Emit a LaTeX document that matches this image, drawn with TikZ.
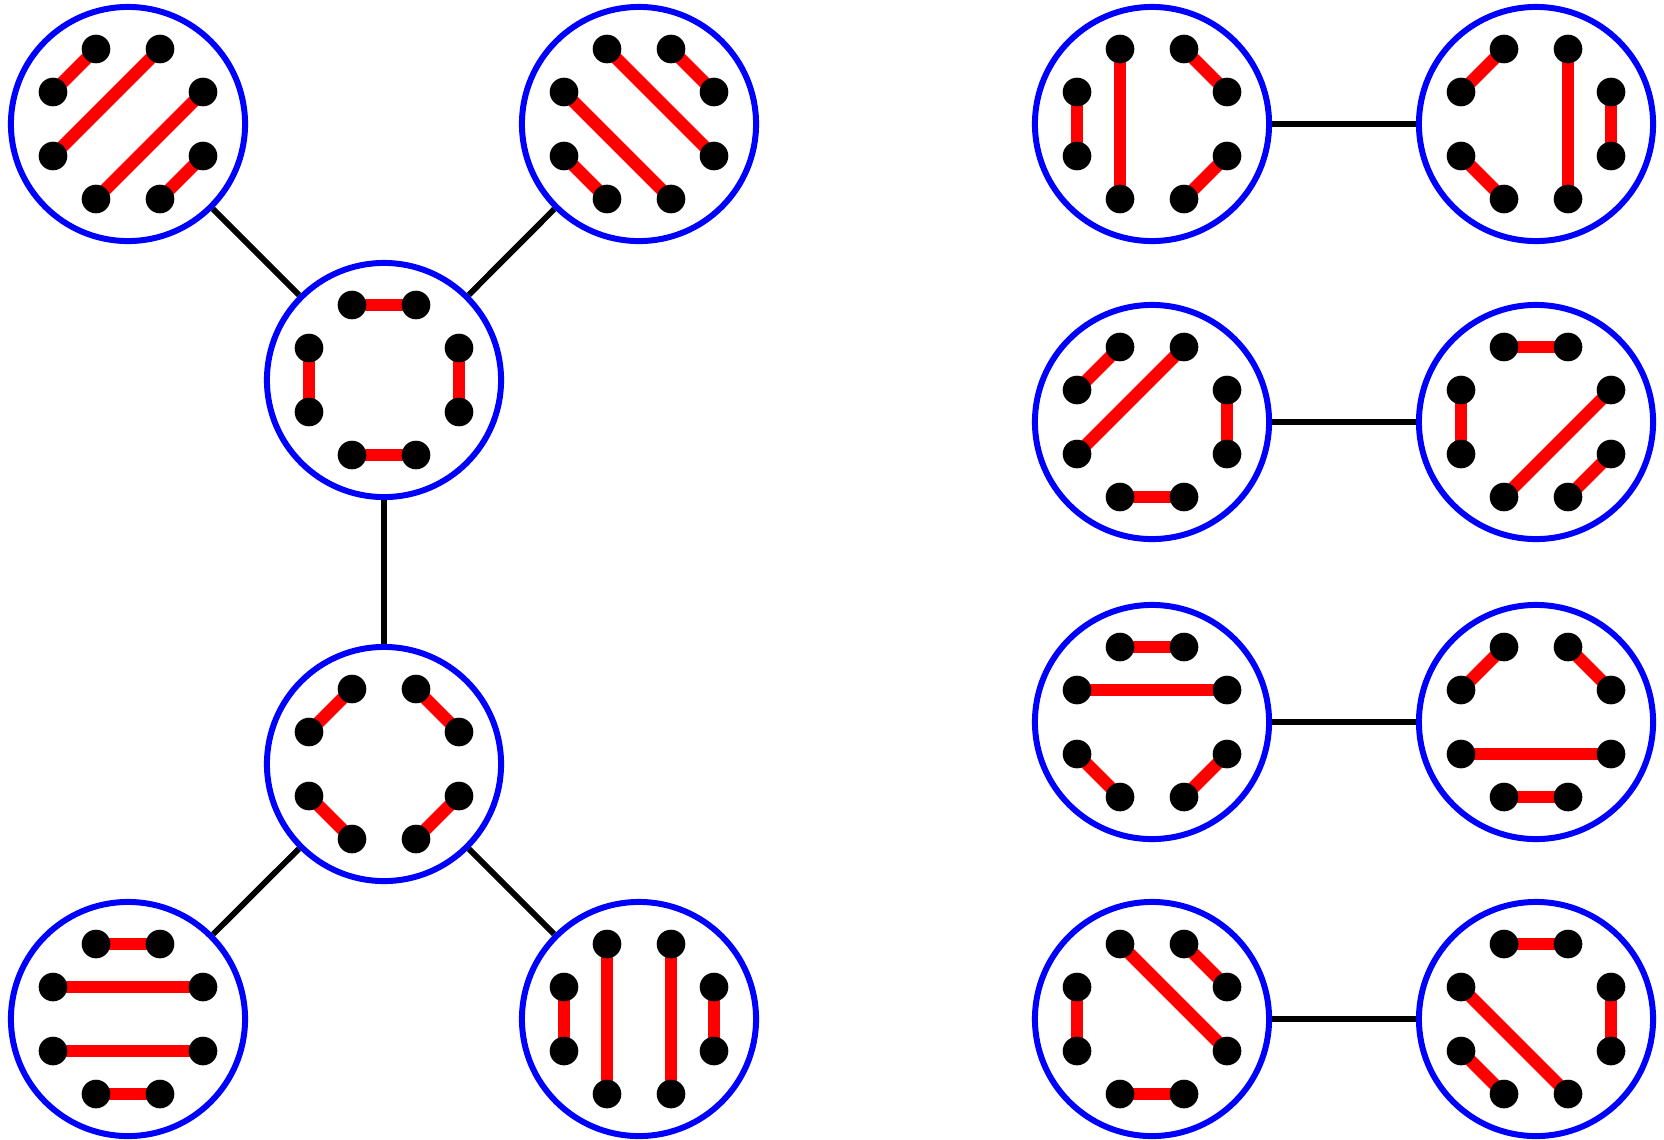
\documentclass[tikz,border=0pt]{standalone}
\usetikzlibrary{calc}
\tikzset{
  ring/.style={circle, draw=blue, fill=white, line width=1.7pt, minimum size=2.34cm, inner sep=0pt},
  match/.style={draw=red, line width=3.6pt},
  dotmark/.style={fill=black},
  link/.style={draw=black, line width=1.65pt}
}
\newcommand{\ringcell}[4]{%
  \node[ring] (#1) at (#2,#3) {};
  \coordinate (#1-1) at ([shift={(-32,-75)}]#1.center);
  \coordinate (#1-2) at ([shift={(32,-75)}]#1.center);
  \coordinate (#1-3) at ([shift={(75,-32)}]#1.center);
  \coordinate (#1-4) at ([shift={(75,32)}]#1.center);
  \coordinate (#1-5) at ([shift={(32,75)}]#1.center);
  \coordinate (#1-6) at ([shift={(-32,75)}]#1.center);
  \coordinate (#1-7) at ([shift={(-75,32)}]#1.center);
  \coordinate (#1-8) at ([shift={(-75,-32)}]#1.center);
  \foreach \a/\b in {#4} {\draw[match] (#1-\a) -- (#1-\b);}
  \foreach \i in {1,...,8} {\fill[dotmark] (#1-\i) circle (0.143cm);}
}
\begin{document}
\begin{tikzpicture}[x=0.01cm, y=-0.01cm]
\useasboundingbox (0,0) rectangle (1664,1139);
% left cluster
\ringcell{TL}{128}{124}{1/8,2/7,3/6,4/5}
\ringcell{TR}{639}{124}{1/4,8/5,2/3,7/6}
\ringcell{CU}{384}{380}{1/2,8/7,3/4,6/5}
\ringcell{CL}{384}{764}{1/8,2/3,7/6,4/5}
\ringcell{BL}{128}{1019}{1/2,8/3,7/4,6/5}
\ringcell{BR}{639}{1019}{8/7,1/6,2/5,3/4}
% right pairs
\ringcell{RA}{1152}{124}{8/7,1/6,2/3,5/4}
\ringcell{RB}{1536}{124}{1/8,7/6,2/5,3/4}
\ringcell{RC}{1152}{422}{1/8,2/7,3/4,6/5}
\ringcell{RD}{1536}{422}{1/2,8/7,3/6,4/5}
\ringcell{RE}{1152}{722}{1/2,8/3,7/6,4/5}
\ringcell{RF}{1536}{722}{1/8,2/3,7/4,6/5}
\ringcell{RG}{1152}{1019}{8/7,1/4,2/3,6/5}
\ringcell{RH}{1536}{1019}{1/2,8/5,3/4,7/6}
% connectors
\draw[link] (TL) -- (CU);
\draw[link] (TR) -- (CU);
\draw[link] (CU) -- (CL);
\draw[link] (CL) -- (BL);
\draw[link] (CL) -- (BR);
\draw[link] (RA) -- (RB);
\draw[link] (RC) -- (RD);
\draw[link] (RE) -- (RF);
\draw[link] (RG) -- (RH);
\end{tikzpicture}
\end{document}
